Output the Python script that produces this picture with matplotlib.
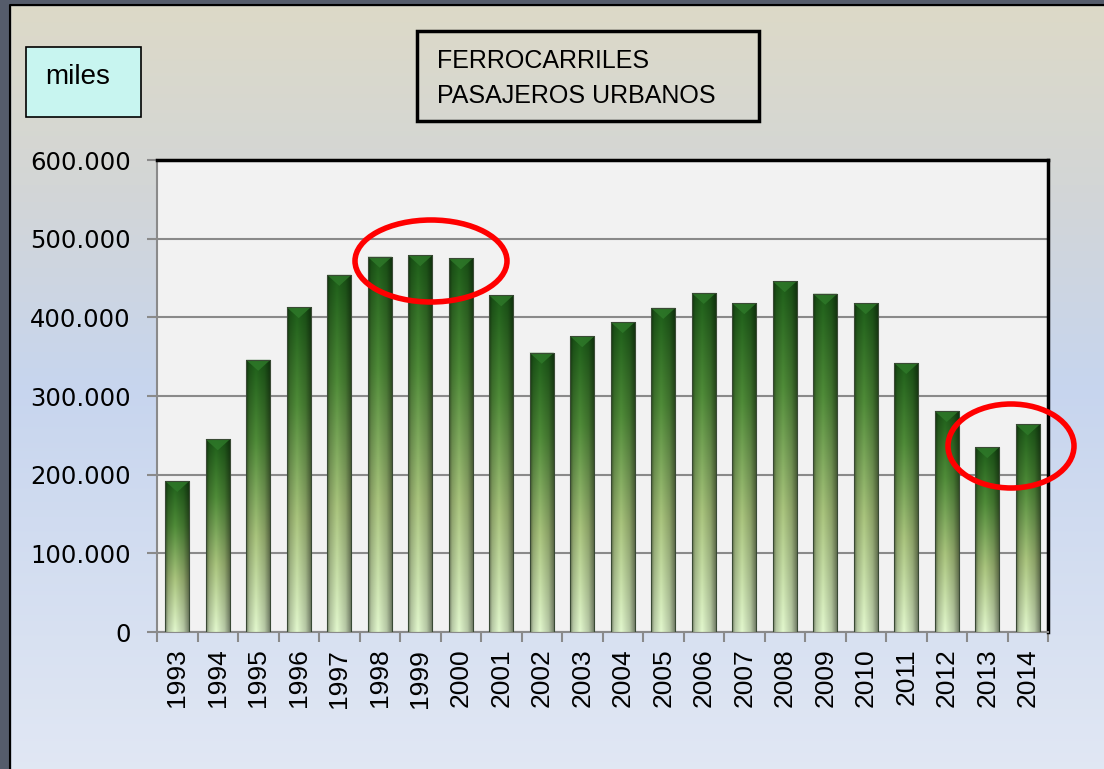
import numpy as np
import matplotlib
matplotlib.use("Agg")
import matplotlib.pyplot as plt
from matplotlib.patches import Rectangle, Ellipse, Polygon
from matplotlib.ticker import FuncFormatter, MultipleLocator, FixedLocator

# datos: pasajeros urbanos de ferrocarril (miles)
years = ["1993", "1994", "1995", "1996", "1997", "1998", "1999", "2000", "2001", "2002", "2003",
         "2004", "2005", "2006", "2007", "2008", "2009", "2010", "2011", "2012", "2013", "2014"]
passengers = [192000, 245000, 346000, 413000, 454000, 477000, 479000, 475000, 428000, 355000, 376000,
              394000, 412000, 431000, 418000, 446000, 430000, 418000, 342000, 281000, 235000, 264000]

plt.rcParams['font.family'] = ['Liberation Sans', 'DejaVu Sans']

fig = plt.figure(figsize=(11.04, 7.69), dpi=100)

# fondo degradado de la figura
bg = fig.add_axes([0, 0, 1, 1], zorder=-10)
bg.set_axis_off()
stops = np.array([0.0, 0.25, 0.5, 1.0])
cols = np.array([[0xde, 0xda, 0xc6], [0xd3, 0xd6, 0xd6], [0xc7, 0xd5, 0xee], [0xe2, 0xe8, 0xf4]]) / 255
t = np.linspace(0, 1, 300)
grad = np.stack([np.interp(t, stops, cols[:, c]) for c in range(3)], axis=-1)
bg.imshow(grad[:, None, :], extent=[-0.02, 1.02, -0.02, 1.02], aspect='auto')
bg.set_xlim(0, 1)
bg.set_ylim(0, 1)
# marco oscuro
bg.add_patch(Rectangle((0, 0), 10 / 1104, 1, color='#555c6b', transform=fig.transFigure))
bg.add_patch(Rectangle((0, 1 - 5 / 769), 1, 5 / 769, color='#555c6b', transform=fig.transFigure))
bg.plot([10 / 1104, 10 / 1104, 1.01], [0, 1 - 5 / 769, 1 - 5 / 769], color='black', lw=1.5,
        transform=fig.transFigure)

ax = fig.add_axes([157 / 1104, 137 / 769, 891 / 1104, 472 / 769])
ax.set_facecolor('#f2f2f2')

x = np.arange(len(years))
bars = ax.bar(x, passengers, width=0.6, facecolor='none', edgecolor='#3a4a35', linewidth=0.8, zorder=4)

# degradado de cada barra
vstops = np.array([0.0, 0.35, 0.7, 1.0])
vcols = np.array([[0xd8, 0xec, 0xc4], [0xa2, 0xbc, 0x78], [0x4c, 0x86, 0x36], [0x1c, 0x5a, 0x18]]) / 255
vt = np.linspace(0, 1, 200)
vgrad = np.stack([np.interp(vt, vstops, vcols[:, c]) for c in range(3)], axis=-1)
ht = np.linspace(0, 1, 40)
hshade = np.interp(ht, [0, 0.12, 0.4, 0.75, 1.0], [0.55, 0.85, 1.05, 0.85, 0.5])
for b in bars:
    x0, w, h = b.get_x(), b.get_width(), b.get_height()
    img = np.clip(vgrad[:, None, :] * hshade[None, :, None], 0, 1)
    im = ax.imshow(img, extent=[x0, x0 + w, 0, h], origin='lower', aspect='auto', zorder=3)
    im.set_clip_path(b)
    # bisel superior
    dy = 14000
    ax.add_patch(Polygon([[x0, h], [x0 + w, h], [x0 + w / 2, h - dy]], closed=True,
                         facecolor='#2f7a2a', edgecolor='none', zorder=3.5, alpha=0.8))

ax.set_xlim(-0.5, len(years) - 0.5)
ax.set_ylim(0, 600000)
ax.yaxis.set_major_locator(MultipleLocator(100000))
ax.yaxis.set_major_formatter(FuncFormatter(lambda v, p: f"{int(v):,}".replace(",", ".")))
ax.grid(axis='y', color='#8a8a8a', linewidth=1.5, zorder=1)
ax.set_axisbelow(True)

ax.set_xticks(x)
ax.set_xticklabels(years, rotation=90)
ax.xaxis.set_minor_locator(FixedLocator(np.arange(-0.5, len(years), 1)))
ax.tick_params(axis='x', which='major', length=0, pad=12, labelsize=19)
ax.tick_params(axis='x', which='minor', length=7, width=1.5, color='#8a8a8a')
ax.tick_params(axis='y', length=7, width=1.5, color='#8a8a8a', labelsize=17.5, pad=12)
for lbl in ax.get_yticklabels():
    lbl.set_family('DejaVu Sans')

for s in ['left', 'bottom']:
    ax.spines[s].set_color('#8a8a8a')
    ax.spines[s].set_linewidth(1.5)
for s in ['top', 'right']:
    ax.spines[s].set_color('black')
    ax.spines[s].set_linewidth(2.5)

# cuadro de unidades
fig.patches.append(Rectangle((26 / 1104, 1 - 117 / 769), 115 / 1104, 70 / 769, transform=fig.transFigure,
                             facecolor='#c8f5f0', edgecolor='black', linewidth=1.2, zorder=5))
fig.text(45 / 1104, 1 - 77 / 769, "miles", fontsize=20, va='center', ha='left', zorder=6)

# cuadro de titulo
fig.patches.append(Rectangle((417 / 1104, 1 - 121 / 769), 342 / 1104, 90 / 769, transform=fig.transFigure,
                             facecolor='none', edgecolor='black', linewidth=2.5, zorder=5))
fig.text(437 / 1104, 1 - 61 / 769, "FERROCARRILES", fontsize=18, va='center', ha='left',
         family=['Liberation Sans Narrow', 'Liberation Sans'], zorder=6)
fig.text(437 / 1104, 1 - 96 / 769, "PASAJEROS URBANOS", fontsize=18, va='center', ha='left',
         family=['Liberation Sans Narrow', 'Liberation Sans'], zorder=6)

# elipses rojas
fig.patches.append(Ellipse((431 / 1104, 1 - 261 / 769), 152 / 1104, 82 / 769, transform=fig.transFigure,
                           facecolor='none', edgecolor='#ff0000', linewidth=4, zorder=10))
fig.patches.append(Ellipse((1011 / 1104, 1 - 446 / 769), 126 / 1104, 84 / 769, transform=fig.transFigure,
                           facecolor='none', edgecolor='#ff0000', linewidth=4, zorder=10))

plt.savefig("out.png", dpi=100)
